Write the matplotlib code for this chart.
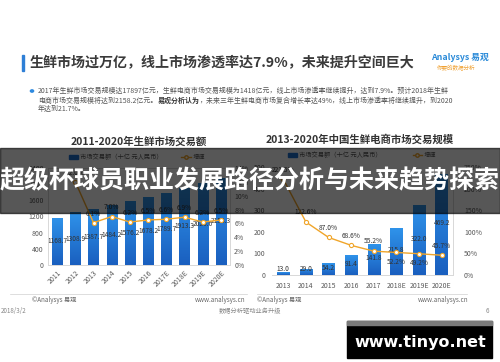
import matplotlib
matplotlib.use("Agg")
import matplotlib.pyplot as plt
import numpy as np
from matplotlib.patches import Rectangle
from matplotlib.lines import Line2D
from matplotlib.colors import LinearSegmentedColormap

plt.rcParams['font.family'] = ['Noto Sans CJK SC', 'DejaVu Sans']

# 左图：2011-2020年生鲜市场交易额
left_years = ['2011', '2012', '2013', '2014', '2015', '2016', '2017E', '2018E', '2019E', '2020E']
left_values = [1168.7, 1308.9, 1387.7, 1484.2, 1576.2, 1678.2, 1789.7, 1913.3, 2026.6, 2158.3]
left_growth = [None, 12.0, 6.1, 7.0, 6.2, 6.5, 6.6, 6.9, 6.2, 6.5]

# 右图：2013-2020年中国生鲜电商市场交易规模
right_years = ['2013', '2014', '2015', '2016', '2017', '2018E', '2019E', '2020E']
right_values = [13.0, 29.0, 54.2, 91.4, 141.8, 215.8, 322.0, 469.2]
right_growth = [221.5, 122.6, 87.0, 68.6, 55.2, 52.2, 49.2, 45.7]

W, H = 500, 362
fig = plt.figure(figsize=(W / 100, H / 100), dpi=100)
fig.patch.set_facecolor('white')

def fx(px):
    return px / W

def fy(py):
    return 1 - py / H

BLUE_CMAP = LinearSegmentedColormap.from_list('bar', ['#1a5fbf', '#2f93ea'])
ORANGE = '#f0a52a'
TICK = '#595959'

def gradient_bars(ax, xs, vals, width):
    bars = ax.bar(xs, vals, width=width, color='#2584dc', zorder=2)
    grad = np.linspace(0, 1, 100).reshape(-1, 1)
    for b in bars:
        x0, y0 = b.get_xy()
        im = ax.imshow(grad, extent=[x0, x0 + b.get_width(), y0, y0 + b.get_height()],
                       origin='lower', aspect='auto', cmap=BLUE_CMAP, zorder=2.1)
        im.set_clip_path(b)
    return bars

def style_frame(ax):
    for s in ax.spines.values():
        s.set_color('#d9d9d9')
        s.set_linewidth(0.6)

# ---------- 页头 ----------
fig.patches.append(Rectangle((fx(22), fy(71)), fx(2), 16 / H, transform=fig.transFigure,
                             color='#2e7fd6', zorder=3))
fig.text(fx(30), fy(63), '生鲜市场过万亿，线上市场渗透率达7.9%，未来提升空间巨大',
         fontsize=10.1, fontweight='bold', color='#3a3a3a', va='center', ha='left')
fig.text(fx(431), fy(57), 'Analysys 易观', fontsize=6.3, color='#2a8ad8', style='italic',
         fontweight='bold', va='center', ha='left')
fig.text(fx(437), fy(67), '你要的数据分析', fontsize=4, color='#f0a030', style='italic',
         va='center', ha='left')

fig.patches.append(plt.Circle((fx(32), fy(91)), 1.6 / W, transform=fig.transFigure,
                              color='#2e8ae0'))
fig.text(fx(38), fy(91), '2017年生鲜市场交易规模达17897亿元，生鲜电商市场交易规模为1418亿元，线上市场渗透率继续提升，达到7.9%。预计2018年生鲜',
         fontsize=5, color='#555555', va='center')
t1 = fig.text(fx(38), fy(100.5), '电商市场交易规模将达到2158.2亿元。', fontsize=5, color='#555555', va='center')
fig.canvas.draw()
bb = t1.get_window_extent()
t2 = fig.text(bb.x1 / W, fy(100.5), '易观分析认为', fontsize=5, color='#333333',
              fontweight='bold', va='center')
fig.canvas.draw()
bb = t2.get_window_extent()
fig.text(bb.x1 / W, fy(100.5), '，未来三年生鲜电商市场复合增长率达49%，线上市场渗透率将继续提升，到2020',
         fontsize=5, color='#555555', va='center')
fig.text(fx(38), fy(109.5), '年达到21.7%。', fontsize=5, color='#555555', va='center')

# ---------- 左图 ----------
ax1 = fig.add_axes([fx(48), fy(265), fx(230) - fx(48), (265 - 168) / H])
x1 = np.arange(len(left_years))
gradient_bars(ax1, x1, left_values, 0.55)
ax1.set_xlim(-0.5, len(left_years) - 0.5)
ax1.set_ylim(0, 2400)
ax1.set_yticks(range(0, 2401, 400))
ax1.set_xticks(x1)
ax1.set_xticklabels(left_years, rotation=45, ha='right', rotation_mode='anchor')
ax1.tick_params(labelsize=5, colors=TICK, length=0, pad=3)
style_frame(ax1)
for xi, v in zip(x1, left_values):
    ax1.text(xi, v / 2, f'{v:.1f}', fontsize=4.8, color='#333333', ha='center', va='center', zorder=5)

ax1r = ax1.twinx()
gx = [xi for xi, g in zip(x1, left_growth) if g is not None]
gv = [g for g in left_growth if g is not None]
ax1r.plot(gx, gv, color=ORANGE, lw=1, marker='o', ms=3, mfc='white', mec=ORANGE, mew=0.8, zorder=4)
ax1r.set_ylim(0, 14)
ax1r.set_yticks(range(0, 15, 2))
ax1r.set_yticklabels([f'{t}%' for t in range(0, 15, 2)])
ax1r.tick_params(labelsize=5, colors=TICK, length=0, pad=3)
style_frame(ax1r)
for xi, g in zip(gx, gv):
    ax1r.annotate(f'{g:.1f}%', (xi, g), xytext=(0, 6.5), textcoords='offset points',
                  fontsize=4.8, color='#333333', ha='center', va='center')

fig.text(fx(139), fy(142), '2011-2020年生鲜市场交易额', fontsize=7.5, fontweight='bold',
         color='#333333', ha='center', va='center')
h_bar = Rectangle((0, 0), 1, 1, color='#1f6fcf')
h_line = Line2D([], [], color=ORANGE, lw=1, marker='o', ms=2.5, mfc='white', mec=ORANGE)
fig.legend([h_bar, h_line], ['市场交易额（十亿 元人民币）', '增速'], loc='center',
           bbox_to_anchor=(fx(137), fy(157)), ncol=2, frameon=False, fontsize=4.5,
           handlelength=1.5, handleheight=0.5, columnspacing=3, handletextpad=0.3,
           labelcolor='#555555')

# ---------- 右图 ----------
ax2 = fig.add_axes([fx(272), fy(275), fx(453) - fx(272), (275 - 167) / H])
x2 = np.arange(len(right_years))
gradient_bars(ax2, x2, right_values, 0.55)
ax2.set_xlim(-0.5, len(right_years) - 0.5)
ax2.set_ylim(0, 500)
ax2.set_yticks(range(0, 501, 100))
ax2.set_xticks(x2)
ax2.set_xticklabels(right_years)
ax2.tick_params(labelsize=5, colors=TICK, length=0, pad=5)
style_frame(ax2)
ax2.spines['left'].set_visible(False)
ax2.spines['top'].set_visible(False)
for xi, v in zip(x2, right_values):
    ax2.text(xi, max(v / 2 + 6, 30), f'{v:.1f}', fontsize=4.8, color='#333333',
             ha='center', va='center', zorder=5)

ax2r = ax2.twinx()
ax2r.plot(x2, right_growth, color=ORANGE, lw=1, marker='o', ms=3, mfc='white', mec=ORANGE,
          mew=0.8, zorder=4)
ax2r.set_ylim(0, 250)
ax2r.set_yticks(range(0, 251, 50))
ax2r.set_yticklabels([f'{t}%' for t in range(0, 251, 50)])
ax2r.tick_params(labelsize=5, colors=TICK, length=0, pad=8)
style_frame(ax2r)
ax2r.spines['left'].set_visible(False)
ax2r.spines['top'].set_visible(False)
for i, (xi, g) in enumerate(zip(x2, right_growth)):
    dy = -7 if right_years[i] in ('2018E', '2019E') else 7
    ax2r.annotate(f'{g:.1f}%', (xi, g), xytext=(0, dy), textcoords='offset points',
                  fontsize=4.8, color='#333333', ha='center', va='center')

fig.text(fx(360), fy(139), '2013-2020年中国生鲜电商市场交易规模', fontsize=7.5, fontweight='bold',
         color='#333333', ha='center', va='center')
fig.legend([h_bar, h_line], ['市场交易额（十亿 元人民币）', '增速'], loc='center',
           bbox_to_anchor=(fx(362), fy(155)), ncol=2, frameon=False, fontsize=4.5,
           handlelength=1.5, handleheight=0.5, columnspacing=5, handletextpad=0.3,
           labelcolor='#555555')

# ---------- 页脚 ----------
fig.add_artist(Line2D([fx(10), fx(247)], [fy(294), fy(294)], color='#d0d0d0', lw=0.5,
                      transform=fig.transFigure))
fig.add_artist(Line2D([fx(257), fx(467)], [fy(294), fy(294)], color='#d0d0d0', lw=0.5,
                      transform=fig.transFigure))
for xpos, txt, ha in [(32, '©Analysys 易观', 'left'), (245, 'www.analysys.cn', 'right'),
                      (257, '©Analysys 易观', 'left'), (468, 'www.analysys.cn', 'right')]:
    fig.text(fx(xpos), fy(300), txt, fontsize=4.5, color='#666666', ha=ha, va='center')
fig.text(fx(1), fy(311), '2018/3/2', fontsize=4.5, color='#888888', ha='left', va='center')
fig.text(fx(250), fy(311), '数据分析驱动业务升级', fontsize=4.5, color='#888888', ha='center', va='center')
fig.text(fx(487), fy(311), '6', fontsize=4.5, color='#888888', ha='center', va='center')

# ---------- 横幅与水印 ----------
fig.patches.append(Rectangle((0, fy(213)), 1, 65 / H, transform=fig.transFigure,
                             color='black', alpha=0.66, zorder=10))
fig.text(0.5, fy(181), '超级杯球员职业发展路径分析与未来趋势探索', fontsize=18, fontweight='bold',
         color='white', ha='center', va='center', zorder=11)
fig.patches.append(Rectangle((fx(347), fy(358)), fx(145), 37 / H, transform=fig.transFigure,
                             color='black', zorder=10))
fig.patches.append(Rectangle((fx(347), fy(325)), fx(145), 4 / H, transform=fig.transFigure,
                             color='#7a7a7a', zorder=11))
fig.text(fx(420), fy(342), 'www.tinyo.net', fontsize=11.5, fontweight='bold', color='white',
         family='DejaVu Sans', ha='center', va='center', zorder=12)

fig.savefig('out.png', dpi=100)
